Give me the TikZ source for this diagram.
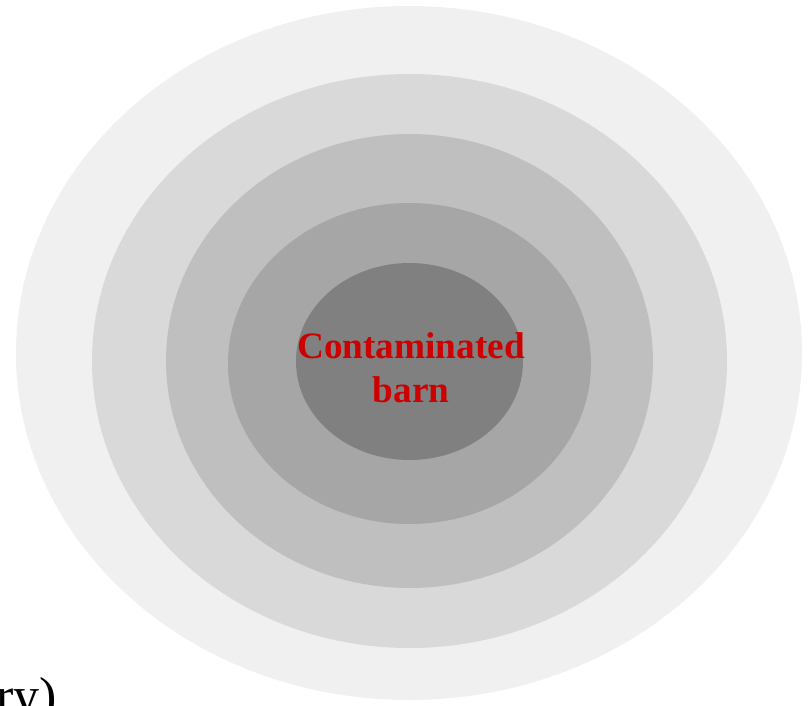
\documentclass[tikz,border=0pt]{standalone}
\usepackage{fontspec}
\setmainfont{Liberation Serif}
\usetikzlibrary{positioning}
\definecolor{zonaA}{HTML}{F0F0F0}
\definecolor{zonaB}{HTML}{D9D9D9}
\definecolor{zonaC}{HTML}{BFBFBF}
\definecolor{zonaD}{HTML}{A6A6A6}
\definecolor{zonaE}{HTML}{808080}
\definecolor{rojo}{HTML}{CC0000}

\begin{document}
\begin{tikzpicture}[x=0.025cm, y=-0.025cm]
				\useasboundingbox (0,0) rectangle (809,705);
				\clip (0,0) rectangle (809,705);
				% Zonas
				\fill[zonaA] (409,353) ellipse [x radius=393, y radius=347];
				\fill[zonaB] (409.5,361) ellipse [x radius=317.5, y radius=287];
				\fill[zonaC] (409.5,361) ellipse [x radius=243.5, y radius=227];
				\fill[zonaD] (409.5,363.5) ellipse [x radius=181.5, y radius=160.5];
				\fill[zonaE] (409.5,361.5) ellipse [x radius=113.5, y radius=98.5];
				% Texto
				\node[text=rojo, font=\fontsize{26.5}{31}\selectfont\bfseries, align=center] (granja) at (411,368) {Contaminated\\barn};
				\node[anchor=base east, font=\fontsize{37}{41}\selectfont, inner sep=0pt] (nota) at (57,713) {ry)};
\end{tikzpicture}
\end{document}
